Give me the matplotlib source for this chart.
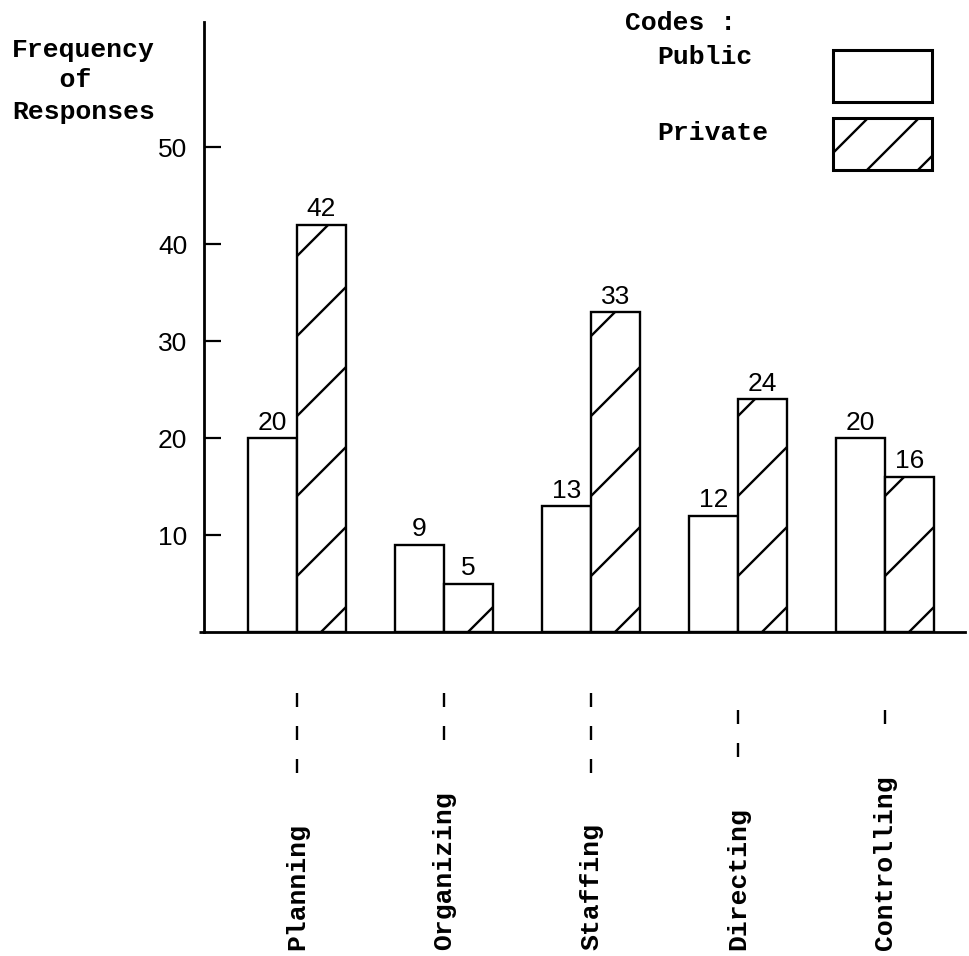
import matplotlib
matplotlib.use('Agg')
import matplotlib.pyplot as plt
from matplotlib.patches import Rectangle
from matplotlib.transforms import blended_transform_factory
import numpy as np

# ---------------- data ----------------
categories = ['Planning', 'Organizing', 'Staffing', 'Directing', 'Controlling']
public = [20, 9, 13, 12, 20]
private = [42, 5, 33, 24, 16]
y_ticks = [10, 20, 30, 40, 50]
dash_counts = [3, 2, 3, 2, 1]
dash_start = [693, 693, 693, 710, 710]   # pixel row of first leader dash

# ---------------- style ----------------
W, H = 969, 956
TYPE = 'Liberation Mono'
NUM = 'Liberation Sans'
TYPE_SIZE = 19
NUM_SIZE = 19

plt.rcParams['font.family'] = [NUM, 'DejaVu Sans']

fig = plt.figure(figsize=(W / 100, H / 100), dpi=100)
fig.patch.set_facecolor('white')

# main axes placed in pixel coordinates
ax = fig.add_axes([204 / W, 1 - 632 / H, (965 - 204) / W, (632 - 22) / H])
ax.set_xlim(-0.633, 4.544)
ax.set_ylim(0, 62.9)
ax.set_facecolor('none')

# overlay axes in pixel coordinates (y downward) for free text / legend
ov = fig.add_axes([0, 0, 1, 1], zorder=-1)
ov.set_xlim(0, W)
ov.set_ylim(H, 0)
ov.axis('off')

x = np.arange(len(categories))
bw = 1 / 3

bars_pub = ax.bar(x - bw / 2, public, bw, facecolor='white', edgecolor='black',
                  linewidth=1.7, zorder=2)
bars_pri = ax.bar(x + bw / 2, private, bw, facecolor='white', edgecolor='black',
                  linewidth=1.7, zorder=2)

# ---- hand-style diagonal hatch lines (drawn in pixel space, clipped to bars)
inv = ax.transData.inverted()


def hatch_patch(patch, period=80.0, offset=24.0, lw=1.7):
    (px0, py0) = ax.transData.transform((patch.get_x(), 0))
    (px1, py1) = ax.transData.transform((patch.get_x() + patch.get_width(),
                                         patch.get_height()))
    kmin = -2
    kmax = int((py1 - py0) / period) + 3
    for k in range(kmin, kmax):
        xs = np.array([px0 - 5, px1 + 5])
        ys = py0 + (xs - px0 - offset) + k * period
        pts = inv.transform(np.column_stack([xs, ys]))
        ln, = ax.plot(pts[:, 0], pts[:, 1], color='black', lw=lw, zorder=3,
                      solid_capstyle='butt')
        ln.set_clip_path(patch)


for p in bars_pri:
    hatch_patch(p)

# value labels
for xi, v in zip(x - bw / 2, public):
    ax.text(xi, v + 0.35, str(v), ha='center', va='bottom',
            fontsize=NUM_SIZE, family=NUM, color='black')
for xi, v in zip(x + bw / 2, private):
    ax.text(xi, v + 0.35, str(v), ha='center', va='bottom',
            fontsize=NUM_SIZE, family=NUM, color='black')

# axes styling
for s in ['top', 'right']:
    ax.spines[s].set_visible(False)
for s in ['left', 'bottom']:
    ax.spines[s].set_linewidth(2.0)
    ax.spines[s].set_zorder(4)
# small overhang of the base line to the left of the vertical axis
ax.plot([-0.665, -0.633], [0, 0], color='black', lw=2.0, clip_on=False,
        solid_capstyle='butt', zorder=4)
ax.set_xticks([])
ax.set_yticks(y_ticks)
ax.set_yticklabels([str(t) for t in y_ticks])
ax.tick_params(axis='y', direction='in', length=12, width=1.6, pad=12,
               labelsize=NUM_SIZE)
for lbl in ax.get_yticklabels():
    lbl.set_family(NUM)

# y-axis title (typed, left-aligned)
for txt, yy in [('Frequency', 50), ('   of', 80), ('Responses', 112)]:
    ov.text(12, yy, txt, ha='left', va='center', family=TYPE,
            fontweight='bold', fontsize=TYPE_SIZE)

# legend ("Codes")
ov.text(625, 23, 'Codes :', ha='left', va='center', family=TYPE,
        fontweight='bold', fontsize=TYPE_SIZE)
ov.text(657, 57, 'Public', ha='left', va='center', family=TYPE,
        fontweight='bold', fontsize=TYPE_SIZE)
ov.text(657, 133, 'Private', ha='left', va='center', family=TYPE,
        fontweight='bold', fontsize=TYPE_SIZE)

box_pub = Rectangle((833, 50), 99, 52, facecolor='white', edgecolor='black',
                    lw=2.2)
box_pri = Rectangle((833, 118), 99, 52, facecolor='white', edgecolor='black',
                    lw=2.2)
ov.add_patch(box_pub)
ov.add_patch(box_pri)
for c in [986, 1037, 1088]:
    xs = np.array([800, 960])
    ys = c - xs
    ln, = ov.plot(xs, ys, color='black', lw=1.7)
    ln.set_clip_path(box_pri)

# category labels and leader dashes below the axis
blend = blended_transform_factory(ax.transData, ov.transData)
for i, (cat, n, y0) in enumerate(zip(categories, dash_counts, dash_start)):
    for k in range(n):
        ys = y0 + k * 33
        ov.plot([i, i], [ys, ys + 14], color='black', lw=1.7,
                transform=blend, solid_capstyle='butt')
    ov.text(i, 950, cat, rotation=90, ha='center', va='bottom', family=TYPE,
            fontweight='bold', fontsize=TYPE_SIZE, transform=blend)

fig.savefig('out.png', dpi=100, facecolor='white')
